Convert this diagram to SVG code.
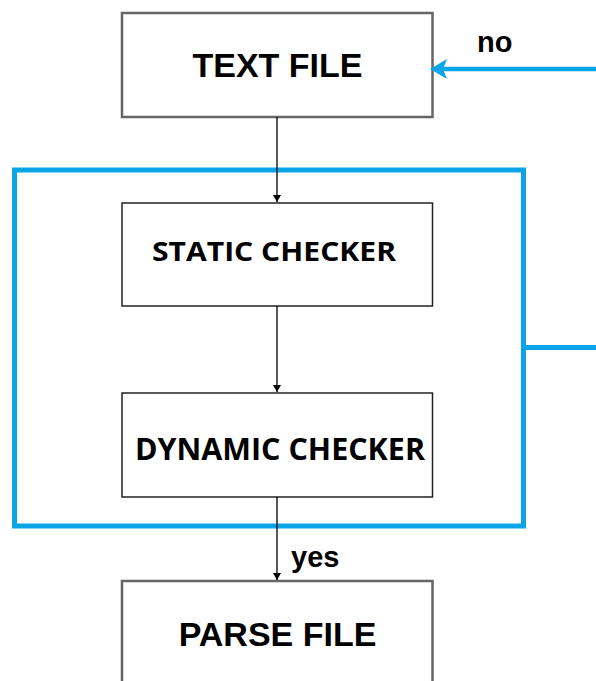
<svg xmlns="http://www.w3.org/2000/svg" width="596" height="681" viewBox="0 0 596 681">
  <style>
    .outer { fill: #ffffff; stroke: #666666; stroke-width: 2.5; }
    .inner { fill: #ffffff; stroke: #222222; stroke-width: 1.5; }
    .arial { font-family: "Liberation Sans", Arial, sans-serif; font-weight: bold; fill: #000000; }
    .cal { font-family: "Open Sans", "Noto Sans", sans-serif; font-weight: bold; fill: #000000; }
    .flow { stroke: #000000; stroke-width: 1.3; fill: none; }
    .loop { stroke: #0aa5e8; fill: none; }
  </style>
  <defs>
    <marker id="arrowBlack" markerWidth="8" markerHeight="8" refX="7" refY="4" orient="auto" markerUnits="userSpaceOnUse">
      <path d="M0,0 L7,4 L0,8 Z" fill="#000000"/>
    </marker>
  </defs>

  <!-- checker group frame -->
  <g id="checker-group">
    <rect class="loop" x="14.5" y="170" width="509" height="356" stroke-width="5"/>
  </g>

  <g id="text-file">
    <rect class="outer" x="122" y="13" width="310.5" height="104"/>
    <text class="arial" x="277.5" y="77" font-size="34" text-anchor="middle">TEXT FILE</text>
  </g>

  <g id="static-checker">
    <rect class="inner" x="122" y="203" width="310.5" height="103"/>
    <text class="cal" x="152" y="261" font-size="27" textLength="244" lengthAdjust="spacingAndGlyphs">STATIC CHECKER</text>
  </g>

  <g id="dynamic-checker">
    <rect class="inner" x="122" y="393" width="310.5" height="104"/>
    <text class="cal" x="135" y="460" font-size="31" textLength="290" lengthAdjust="spacingAndGlyphs">DYNAMIC CHECKER</text>
  </g>

  <g id="parse-file">
    <rect class="outer" x="122" y="581" width="310.5" height="120"/>
    <text class="arial" x="277.5" y="646" font-size="34" text-anchor="middle">PARSE FILE</text>
  </g>

  <g id="connectors">
    <line class="flow" x1="277" y1="117" x2="277" y2="202" marker-end="url(#arrowBlack)"/>
    <line class="flow" x1="277" y1="306" x2="277" y2="392" marker-end="url(#arrowBlack)"/>
    <line class="flow" x1="277" y1="497" x2="277" y2="580" marker-end="url(#arrowBlack)"/>
    <!-- feedback path back to the text file -->
    <line class="loop" x1="523" y1="347.5" x2="596" y2="347.5" stroke-width="5"/>
    <line class="loop" x1="596" y1="69" x2="442" y2="69" stroke-width="4.5"/>
    <path d="M430,69 L447,59 L443,69 L447,79 Z" fill="#0aa5e8"/>
    <text class="arial" x="477" y="52" font-size="29">no</text>
    <text class="arial" x="291" y="567" font-size="29">yes</text>
  </g>
</svg>
